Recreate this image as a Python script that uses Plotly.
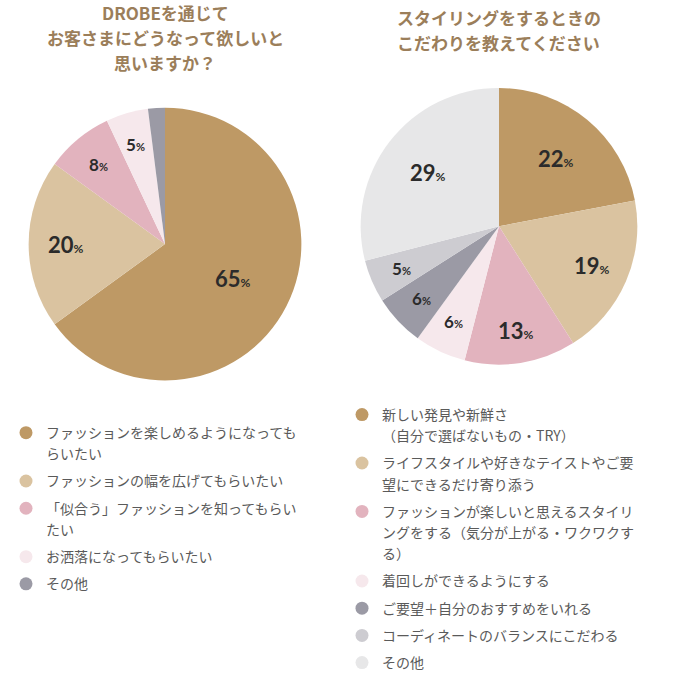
import math
import plotly.graph_objects as go

# ---- data ----
left_title_lines = ["DROBEを通じて", "お客さまにどうなって欲しいと", "思いますか？"]
left_labels = [
    "ファッションを楽しめるようになっても<br>らいたい",
    "ファッションの幅を広げてもらいたい",
    "「似合う」ファッションを知ってもらい<br>たい",
    "お洒落になってもらいたい",
    "その他",
]
left_values = [65, 20, 8, 5, 2]
left_show_label = [True, True, True, True, False]

right_title_lines = ["スタイリングをするときの", "こだわりを教えてください"]
right_labels = [
    "新しい発見や新鮮さ<br>（自分で選ばないもの・TRY）",
    "ライフスタイルや好きなテイストやご要<br>望にできるだけ寄り添う",
    "ファッションが楽しいと思えるスタイリ<br>ングをする（気分が上がる・ワクワクす<br>る）",
    "着回しができるようにする",
    "ご要望＋自分のおすすめをいれる",
    "コーディネートのバランスにこだわる",
    "その他",
]
right_values = [22, 19, 13, 6, 6, 5, 29]
right_show_label = [True] * 7

left_colors = ["#BE9965", "#DAC3A0", "#E2B3BE", "#F6E8EC", "#9B9AA5"]
right_colors = ["#BE9965", "#DAC3A0", "#E2B3BE", "#F6E8EC", "#9B9AA5", "#CDCCD1", "#E7E7E8"]

W, H = 680, 679
FONT_JP = "Noto Sans CJK JP"
TITLE_COLOR = "#9B7E5A"
LEG_COLOR = "#5A5A5A"

# pie geometry (pixels)
left_c, left_r = (165, 247), 138
right_c, right_r = (499, 229), 140


def domain(c, r):
    cx, cy = c
    return dict(x=[(cx - r) / W, (cx + r) / W], y=[1 - (cy + r) / H, 1 - (cy - r) / H])


fig = go.Figure()

for vals, cols, c, r, name in [(left_values, left_colors, left_c, left_r, "L"),
                               (right_values, right_colors, right_c, right_r, "R")]:
    fig.add_trace(go.Pie(
        values=vals, labels=[f"{name}{i}" for i in range(len(vals))],
        marker=dict(colors=cols, line=dict(width=0)),
        sort=False, direction="clockwise", rotation=0,
        textinfo="none", hoverinfo="skip", showlegend=False,
        domain=domain(c, r),
    ))


def add_labels(vals, show, c, r):
    total = sum(vals)
    cum = 0
    for v, s in zip(vals, show):
        mid = (cum + v / 2) / total * 2 * math.pi
        cum += v
        if not s:
            continue
        if v >= 50:
            f = 0.55
        elif v > 20:
            f = 0.64
        elif v >= 18:
            f = 0.72
        else:
            f = 0.76
        px = c[0] + f * r * math.sin(mid)
        py = c[1] - f * r * math.cos(mid)
        big = v >= 10
        size = 22 if big else 17
        psize = 12 if big else 11
        fig.add_annotation(
            x=px / W, y=1 - py / H, xref="paper", yref="paper",
            text=f"<b>{v}</b><span style='font-size:{psize}px'><b>%</b></span>",
            showarrow=False, font=dict(family="Lato", size=size, color="#2B2B2B"),
            xanchor="center", yanchor="middle",
        )


add_labels(left_values, left_show_label, left_c, left_r)
add_labels(right_values, right_show_label, right_c, right_r)

# titles (one annotation per line)
for lines, cx, y0 in [(left_title_lines, 165, 13), (right_title_lines, 499, 18)]:
    for k, line in enumerate(lines):
        fig.add_annotation(x=cx / W, y=1 - (y0 + 25 * k) / H, xref="paper", yref="paper",
                           text=f"<b>{line}</b>", showarrow=False, xanchor="center", yanchor="middle",
                           font=dict(family=FONT_JP, size=17, color=TITLE_COLOR))

# legend entries (circle markers); wrapped lines become marker-less rows of the same group
def add_legend(labels, colors, legend, prefix):
    for i, (lab, col) in enumerate(zip(labels, colors)):
        for j, line in enumerate(lab.split("<br>")):
            fig.add_trace(go.Scatter(
                x=[None], y=[None], mode="markers", name=line,
                marker=dict(symbol="circle", size=13, color=col if j == 0 else "rgba(0,0,0,0)"),
                legend=legend, legendgroup=f"{prefix}{i}", showlegend=True, hoverinfo="skip"))


add_legend(left_labels, left_colors, "legend", "l")
add_legend(right_labels, right_colors, "legend2", "r")

leg_common = dict(font=dict(family=FONT_JP, size=14, color=LEG_COLOR), bgcolor="rgba(0,0,0,0)",
                  xanchor="left", yanchor="top", itemclick=False,
                  itemdoubleclick=False, groupclick="toggleitem")

fig.update_layout(
    width=W, height=H, margin=dict(l=0, r=0, t=0, b=0),
    paper_bgcolor="white", plot_bgcolor="white",
    xaxis=dict(visible=False), yaxis=dict(visible=False),
    legend=dict(x=6 / W, y=1 - 422 / H, tracegroupgap=6, **leg_common),
    legend2=dict(x=342 / W, y=1 - 404 / H, tracegroupgap=6, **leg_common),
)

fig.write_html("out.html", config={"displayModeBar": False},
               post_script="document.body.style.margin='0';")
